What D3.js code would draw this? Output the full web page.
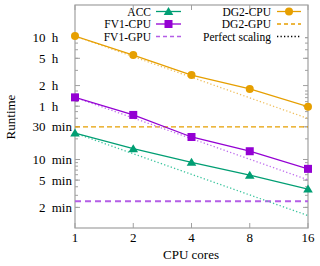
<!DOCTYPE html>
<html><head><meta charset="utf-8">
<script src="https://cdn.jsdelivr.net/npm/d3@7"></script>
<style>body{margin:0;background:#fff}svg{display:block}text{font-family:"Liberation Serif","Times New Roman",serif;font-size:13px;fill:#000}</style>
</head><body><svg id="c" width="320" height="266"></svg>
<script>
const cores = [1, 2, 4, 8, 16];
const acc = [24.3, 14.4, 9.1, 5.9, 3.7];        // minutes
const fv1Cpu = [80.7, 44.7, 21.3, 13.2, 7.3];
const dg2Cpu = [635, 335, 171, 107, 59];
const fv1Gpu = 2.45;
const dg2Gpu = 30;
const yTickVals = [600, 300, 120, 60, 30, 10, 5, 2];
const yTickLabels = ["10 h", "5 h", "2 h", "1 h", "30 min", "10 min", "5 min", "2 min"];

const svg = d3.select("#c");
const L = 75, R = 308, T = 5, B = 228;
const x = d3.scaleLog().base(2).domain([1, 16]).range([L, R]);
const y = d3.scaleLog().domain([1, 1800]).range([B, T]);
const grey = "#a0a0a0";
const FONT = "Liberation Serif";

// minor ticks
const minors = [];
for (let e = 0; e < 3; e++) for (let m = 1; m <= 9; m++) { const v = m * Math.pow(10, e); if (v > 1 && v <= 600) minors.push(v); }
const gAx = svg.append("g");
minors.forEach(v => {
  gAx.append("line").attr("x1", L).attr("x2", L + 3).attr("y1", y(v)).attr("y2", y(v)).attr("stroke", grey);
  gAx.append("line").attr("x1", R).attr("x2", R - 3).attr("y1", y(v)).attr("y2", y(v)).attr("stroke", grey);
});
yTickVals.forEach(v => {
  gAx.append("line").attr("x1", L).attr("x2", L + 5).attr("y1", y(v)).attr("y2", y(v)).attr("stroke", grey);
  gAx.append("line").attr("x1", R).attr("x2", R - 5).attr("y1", y(v)).attr("y2", y(v)).attr("stroke", grey);
});
cores.forEach(c => {
  gAx.append("line").attr("x1", x(c)).attr("x2", x(c)).attr("y1", B).attr("y2", B - 5).attr("stroke", grey);
  gAx.append("line").attr("x1", x(c)).attr("x2", x(c)).attr("y1", T).attr("y2", T + 5).attr("stroke", grey);
});
svg.append("rect").attr("x", L).attr("y", T).attr("width", R - L).attr("height", B - T)
  .attr("fill", "none").attr("stroke", grey).attr("stroke-width", 1.2);

// tick labels: number right-aligned, unit left-aligned
const yl = svg.append("g").selectAll("text").data(yTickVals).join("text")
  .attr("font-family", FONT).attr("y", d => y(d) + 4.5);
yl.append("tspan").attr("x", 45.5).attr("text-anchor", "end").text((d, i) => yTickLabels[i].split(" ")[0]);
yl.append("tspan").attr("x", 48.5).attr("text-anchor", "start").text((d, i) => " " + yTickLabels[i].split(" ")[1]);
svg.append("g").selectAll("text").data(cores).join("text").attr("font-family", FONT)
  .attr("x", d => x(d)).attr("y", 242).attr("text-anchor", "middle").text(d => d);
svg.append("text").attr("font-family", FONT).attr("x", 191).attr("y", 259).attr("text-anchor", "middle").text("CPU cores");
svg.append("text").attr("font-family", FONT).attr("transform", "translate(15,117) rotate(-90)").attr("text-anchor", "middle").text("Runtime");

const green = "#009e73", purple = "#9400d3", orange = "#e69f00";
const line = d3.line().x((d, i) => x(cores[i])).y(d => y(d));
const series = [
  {name: "ACC", data: acc, color: green, light: "#3cc59e", marker: "tri"},
  {name: "FV1-CPU", data: fv1Cpu, color: purple, light: "#c070ee", marker: "sq"},
  {name: "DG2-CPU", data: dg2Cpu, color: orange, light: "#f0c060", marker: "circ"}
];
svg.append("clipPath").attr("id", "pc").append("rect").attr("x", L).attr("y", T).attr("width", R - L).attr("height", B - T);
const gp = svg.append("g").attr("clip-path", "url(#pc)");
gp.append("line").attr("x1", L).attr("x2", R).attr("y1", y(dg2Gpu)).attr("y2", y(dg2Gpu))
  .attr("stroke", orange).attr("stroke-width", 1.3).attr("stroke-dasharray", "5,3");
gp.append("line").attr("x1", L).attr("x2", R).attr("y1", y(fv1Gpu)).attr("y2", y(fv1Gpu))
  .attr("stroke", "#b45ee6").attr("stroke-width", 2).attr("stroke-dasharray", "6,4");
series.forEach(s => {
  gp.append("path").attr("d", line(cores.map(c => s.data[0] / c))).attr("fill", "none")
    .attr("stroke", s.light).attr("stroke-width", 1.3).attr("stroke-dasharray", "1.3,2.2");
});
function marker(g, type, cx, cy, color) {
  if (type === "circ") g.append("circle").attr("cx", cx).attr("cy", cy).attr("r", 4).attr("fill", color);
  else if (type === "sq") g.append("rect").attr("x", cx - 4).attr("y", cy - 4).attr("width", 8).attr("height", 8).attr("fill", color);
  else g.append("path").attr("d", `M${cx},${cy - 4.5}L${cx + 4.8},${cy + 3.5}L${cx - 4.8},${cy + 3.5}Z`).attr("fill", color);
}
const gm = svg.append("g");
series.forEach(s => {
  gp.append("path").attr("d", line(s.data)).attr("fill", "none").attr("stroke", s.color).attr("stroke-width", 1.3);
  s.data.forEach((v, i) => marker(gm, s.marker, x(cores[i]), y(v), s.color));
});

// legend
const lg = svg.append("g");
const rowsY = [11.5, 24, 36.5];
const leftItems = [
  {name: "ACC", color: green, m: "tri", dash: null},
  {name: "FV1-CPU", color: purple, m: "sq", dash: null},
  {name: "FV1-GPU", color: "#b45ee6", m: null, dash: "4,3"}
];
const rightItems = [
  {name: "DG2-CPU", color: orange, m: "circ", dash: null},
  {name: "DG2-GPU", color: orange, m: null, dash: "4,3"},
  {name: "Perfect scaling", color: "#000", m: null, dash: "1.3,2.2"}
];
function legendCol(items, textX, lx1, lx2) {
  items.forEach((it, i) => {
    const yy = rowsY[i];
    lg.append("rect").attr("x", lx1 - 4).attr("y", yy - 5).attr("width", lx2 - lx1 + 8).attr("height", 10).attr("fill", "#fff");
    lg.append("text").attr("font-family", FONT).style("font-size", "11.5px")
      .attr("x", textX).attr("y", yy + 4).attr("text-anchor", "end").text(it.name);
    lg.append("line").attr("x1", lx1).attr("x2", lx2).attr("y1", yy).attr("y2", yy)
      .attr("stroke", it.color).attr("stroke-width", it.name === "FV1-GPU" ? 1.5 : 1.3)
      .attr("stroke-dasharray", it.dash);
    if (it.m) marker(lg, it.m, (lx1 + lx2) / 2, yy, it.color);
  });
}
legendCol(leftItems, 151, 156, 181);
legendCol(rightItems, 271, 277, 301);
</script></body></html>
